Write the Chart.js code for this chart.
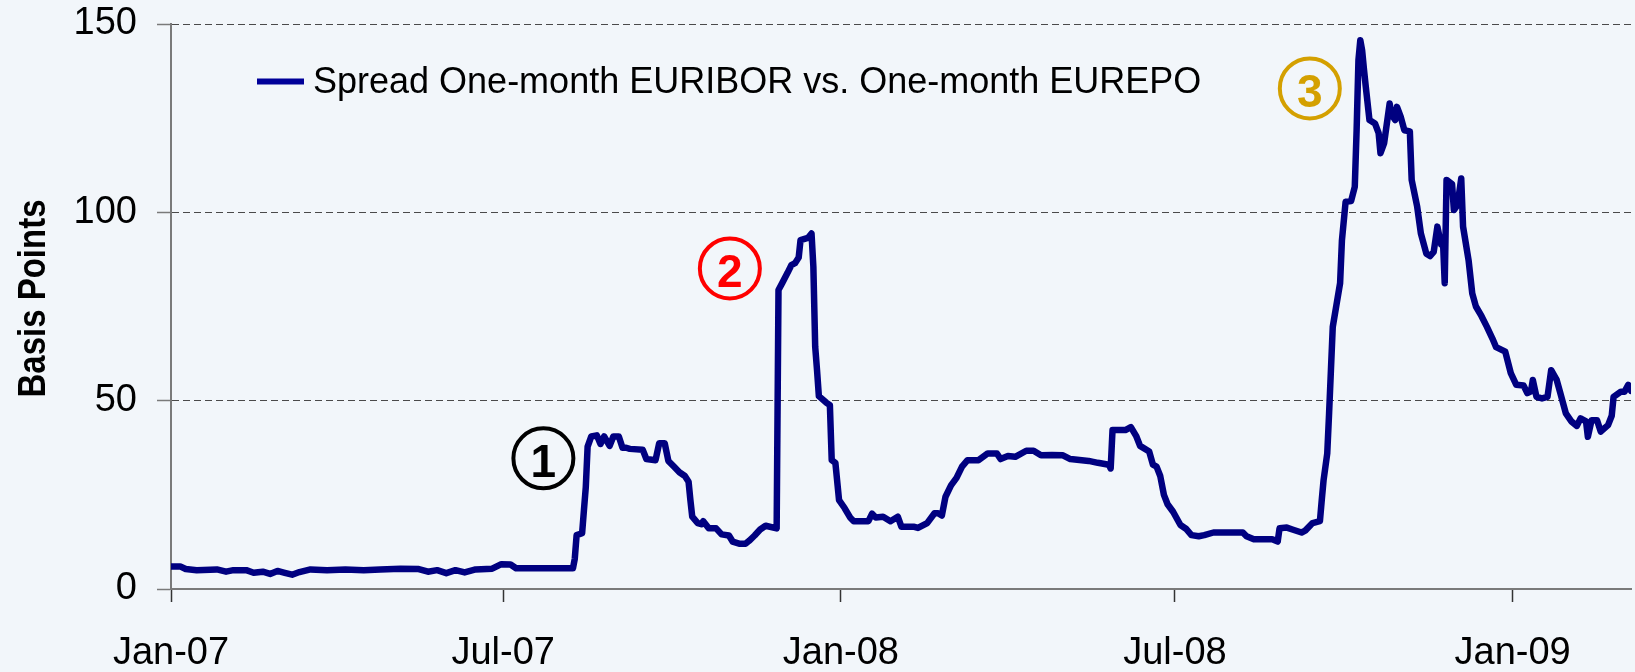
<!DOCTYPE html>
<html><head><meta charset="utf-8">
<script src="https://cdn.jsdelivr.net/npm/chart.js@4.4.0/dist/chart.umd.min.js"></script>
<style>html,body{margin:0;padding:0;background:#F2F6FA;overflow:hidden}#wrap{width:1635px;height:672px;position:relative}canvas{display:block}</style>
</head><body><div id="wrap"><canvas id="c" width="1635" height="672"></canvas></div>
<script>
// Days since 1 Jan 2007
const days = [0,5,8,14,25,30,34,41,45,50,54,58,62,66,70,76,85,95,105,114,125,135,140,145,150,155,160,166,175,180,185,188,200,210,219,220,221,224,225,226,227,229,232,234,236,239,241,244,246,248,250,257,259,264,266,269,271,274,277,280,282,283,284,287,289,290,293,297,300,304,306,310,313,315,318,321,324,330,331,333,336,338,340,342,343,347,349,350,351,352,353,357,359,360,362,364,367,370,372,380,382,384,388,392,396,398,405,407,412,416,418,420,422,425,428,431,434,440,445,450,452,456,460,466,470,474,480,486,490,500,505,511,512,513,520,523,526,528,533,535,537,539,541,543,546,550,553,556,560,563,568,575,584,586,590,600,603,604,608,611,616,618,622,626,627,628,630,631,632,633,635,637,638,640,643,645,646,647,648,649,650,651,653,656,658,659,661,664,665,667,668,670,672,675,676,679,681,684,686,688,690,692,693,694,695,698,699,701,703,704,707,709,711,714,717,720,722,727,730,733,737,739,741,742,744,747,750,752,755,757,760,763,766,768,771,772,774,777,779,783,785,786,790,792,794,795.5];
// Spread in basis points
const spread = [6.0,6.0,5.3,5.0,5.2,4.6,5.0,5.0,4.3,4.6,4.0,4.8,4.3,3.8,4.5,5.2,5.0,5.2,5.0,5.2,5.4,5.3,4.6,5.0,4.2,5.0,4.4,5.2,5.4,6.6,6.5,5.5,5.5,5.5,5.5,8.0,14.3,14.8,21.0,27.0,37.8,40.5,40.8,38.5,40.5,38.0,40.5,40.5,37.5,37.5,37.2,37.0,34.5,34.2,38.7,38.7,34.0,32.5,31.0,30.0,28.5,23.6,19.2,17.5,17.2,18.0,16.1,16.1,14.5,14.2,12.6,12.0,12.0,12.8,14.2,15.8,16.8,16.1,79.4,81.2,84.0,86.0,86.5,88.0,92.6,93.2,94.4,85.6,64.3,58.1,51.2,49.5,48.8,34.2,33.5,23.6,21.5,19.0,18.0,18.0,20.0,19.0,19.2,18.0,19.2,16.5,16.5,16.2,17.5,20.1,20.1,19.5,24.5,27.5,29.5,32.5,34.2,34.2,36.0,36.0,34.5,35.3,35.1,36.7,36.7,35.5,35.6,35.5,34.5,34.0,33.5,33.0,32.0,42.2,42.2,43.0,40.5,38.0,36.5,33.0,32.5,30.0,25.0,22.5,20.5,17.0,16.0,14.3,14.0,14.3,15.0,15.0,15.0,14.0,13.2,13.2,12.6,16.1,16.3,15.8,15.0,15.5,17.5,18.0,23.6,28.9,36.0,46.6,58.1,69.6,75.4,81.2,92.6,102.8,103.0,106.8,121.8,140.4,145.7,143.0,138.0,133.3,124.5,123.6,121.0,115.7,118.4,128.9,126.0,124.5,128.0,125.4,121.8,121.5,108.6,101.5,94.4,89.0,88.4,89.5,96.2,91.5,93.0,81.2,108.6,107.5,100.6,102.0,109.0,96.2,87.3,78.5,75.0,72.5,69.6,66.5,64.2,63.0,57.3,54.2,54.0,52.0,52.5,55.5,51.0,50.6,51.0,58.1,55.5,52.0,46.6,44.5,43.3,45.3,44.5,40.4,44.8,44.8,41.8,43.5,46.0,51.0,52.4,52.4,54.2,52.6];
const tickDays = [0,181,365,547,731];
const tickLabels = ['Jan-07','Jul-07','Jan-08','Jul-08','Jan-09'];
const yTicks = [0,50,100,150];
const seriesLabel = 'Spread One-month EURIBOR vs. One-month EUREPO';
const axisTitle = 'Basis Points';
const markerLabels = ['1','2','3'];
const markerDays = [202.9,304.5,620.5];
const markerValues = [34.7,85.1,132.9];
const markerColors = ['#000000','#FF0000','#D4A000'];

const FONT = "'Liberation Sans', Arial, sans-serif";
const BG = '#F2F6FA';

const bgPlugin = {
  id:'bg',
  beforeDraw(chart){
    const c = chart.ctx; c.save(); c.fillStyle = BG; c.fillRect(0,0,chart.width,chart.height); c.restore();
  }
};

const decoPlugin = {
  id:'deco',
  afterDraw(chart){
    const c = chart.ctx, a = chart.chartArea;
    const xs = chart.scales.x, ys = chart.scales.y;
    c.save();
    // Y-axis title
    c.font = "bold 39px 'Liberation Sans Narrow', 'Liberation Sans', Arial, sans-serif";
    const w = c.measureText(axisTitle).width;
    const target = 198;
    c.translate(45, (a.top + a.bottom)/2 - 8);
    c.rotate(-Math.PI/2);
    c.scale(target / w, 1);
    c.fillStyle = '#000';
    c.textAlign = 'center';
    c.textBaseline = 'alphabetic';
    c.fillText(axisTitle, 0, 0);
    c.restore();

    // Legend
    c.save();
    const lx = a.left + 86, ly = a.top + 57.5;
    c.strokeStyle = '#000099';
    c.lineWidth = 6;
    c.beginPath(); c.moveTo(lx, ly); c.lineTo(lx + 47, ly); c.stroke();
    c.font = '36px ' + FONT;
    c.fillStyle = '#000';
    c.textBaseline = 'alphabetic';
    c.textAlign = 'left';
    c.fillText(seriesLabel, lx + 56, ly + 11.8);
    c.restore();

    // Circled markers
    for (let i = 0; i < markerLabels.length; i++) {
      const cx = xs.getPixelForValue(markerDays[i]);
      const cy = ys.getPixelForValue(markerValues[i]);
      c.save();
      c.strokeStyle = markerColors[i];
      c.lineWidth = 4;
      c.beginPath(); c.arc(cx, cy, 30, 0, Math.PI*2); c.stroke();
      c.fillStyle = markerColors[i];
      c.font = 'bold 46px ' + FONT;
      c.textAlign = 'center';
      c.textBaseline = 'alphabetic';
      c.fillText(markerLabels[i], cx, cy + 19);
      c.restore();
    }
  }
};

new Chart(document.getElementById('c'), {
  type:'line',
  data:{
    datasets:[{
      label: seriesLabel,
      data: days.map((d,i)=>({x:d, y:spread[i]})),
      borderColor:'#000080',
      backgroundColor:'#000080',
      borderWidth:6.5,
      pointRadius:0,
      tension:0,
      fill:false,
      borderJoinStyle:'round',
      borderCapStyle:'round'
    }]
  },
  options:{
    responsive:false,
    maintainAspectRatio:false,
    animation:false,
    devicePixelRatio:1,
    layout:{padding:{top:24,right:4,left:0,bottom:0}},
    plugins:{legend:{display:false}, tooltip:{enabled:false}, title:{display:false}},
    scales:{
      x:{
        type:'linear',
        min:0,
        max:795.5,
        afterBuildTicks(s){ s.ticks = tickDays.map(v=>({value:v})); },
        afterFit(s){ s.height = 83; s.paddingLeft = 0; s.paddingRight = 0; },
        ticks:{
          autoSkip:false,
          maxRotation:0,
          padding:29,
          color:'#000',
          font:{family:FONT, size:38},
          callback(v){ const i = tickDays.indexOf(v); return i >= 0 ? tickLabels[i] : ''; }
        },
        grid:{drawOnChartArea:false, drawTicks:true, tickLength:13, tickColor:'#333', tickWidth:1.5, tickBorderDash:[]},
        border:{display:true, color:'#7a7a7a', width:2}
      },
      y:{
        type:'linear',
        min:0,
        max:150,
        afterBuildTicks(s){ s.ticks = yTicks.map(v=>({value:v})); },
        afterFit(s){ s.width = 171; s.paddingTop = 0; s.paddingBottom = 0; },
        ticks:{
          padding:20,
          color:'#000',
          font:{family:FONT, size:38},
          callback(v){ return String(v); }
        },
        grid:{
          color(ctx){ return ctx.tick && ctx.tick.value === 0 ? 'rgba(0,0,0,0)' : '#4a4a4a'; },
          lineWidth:1,
          drawTicks:true,
          tickLength:14,
          tickColor:'#7a7a7a',
          tickWidth:1.5,
          tickBorderDash:[]
        },
        border:{display:true, color:'#7a7a7a', width:2, dash:[7,4]}
      }
    }
  },
  plugins:[bgPlugin, decoPlugin]
});
</script>
</body></html>
